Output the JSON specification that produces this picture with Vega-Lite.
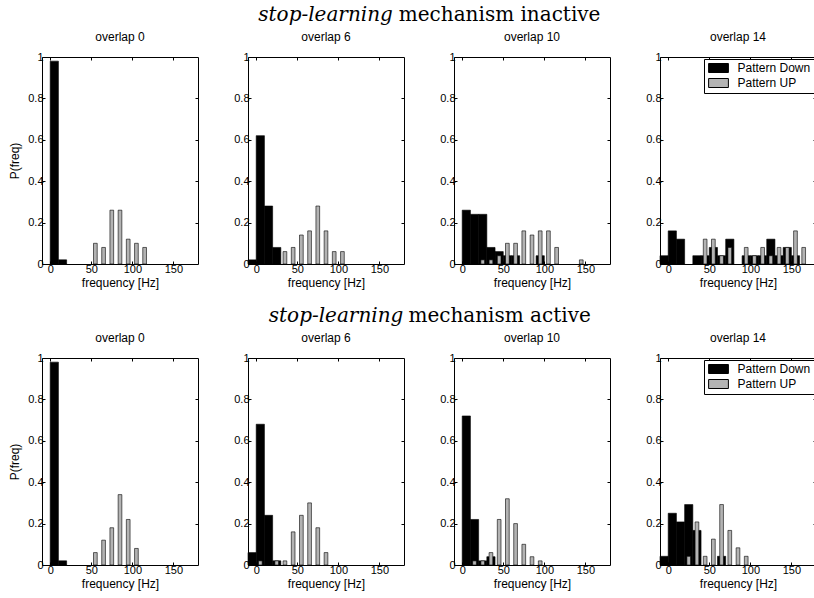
{
"$schema": "https://vega.github.io/schema/vega-lite/v6.json",
"background": "white",
"padding": {"left": 8, "top": 4, "right": 0, "bottom": 4},
"datasets": {"h": [
{"c":"inactive","o":0,"s":"Pattern Down","lo":0,"hi":10,"p":0.98},
{"c":"inactive","o":0,"s":"Pattern Down","lo":10,"hi":20,"p":0.02},
{"c":"inactive","o":0,"s":"Pattern UP","lo":50,"hi":60,"p":0.10},
{"c":"inactive","o":0,"s":"Pattern UP","lo":60,"hi":70,"p":0.08},
{"c":"inactive","o":0,"s":"Pattern UP","lo":70,"hi":80,"p":0.26},
{"c":"inactive","o":0,"s":"Pattern UP","lo":80,"hi":90,"p":0.26},
{"c":"inactive","o":0,"s":"Pattern UP","lo":90,"hi":100,"p":0.12},
{"c":"inactive","o":0,"s":"Pattern UP","lo":100,"hi":110,"p":0.10},
{"c":"inactive","o":0,"s":"Pattern UP","lo":110,"hi":120,"p":0.08},
{"c":"inactive","o":6,"s":"Pattern Down","lo":-10,"hi":0,"p":0.02},
{"c":"inactive","o":6,"s":"Pattern Down","lo":0,"hi":10,"p":0.62},
{"c":"inactive","o":6,"s":"Pattern Down","lo":10,"hi":20,"p":0.28},
{"c":"inactive","o":6,"s":"Pattern Down","lo":20,"hi":30,"p":0.08},
{"c":"inactive","o":6,"s":"Pattern UP","lo":30,"hi":40,"p":0.06},
{"c":"inactive","o":6,"s":"Pattern UP","lo":40,"hi":50,"p":0.08},
{"c":"inactive","o":6,"s":"Pattern UP","lo":50,"hi":60,"p":0.14},
{"c":"inactive","o":6,"s":"Pattern UP","lo":60,"hi":70,"p":0.16},
{"c":"inactive","o":6,"s":"Pattern UP","lo":70,"hi":80,"p":0.28},
{"c":"inactive","o":6,"s":"Pattern UP","lo":80,"hi":90,"p":0.16},
{"c":"inactive","o":6,"s":"Pattern UP","lo":90,"hi":100,"p":0.06},
{"c":"inactive","o":6,"s":"Pattern UP","lo":100,"hi":110,"p":0.06},
{"c":"inactive","o":10,"s":"Pattern Down","lo":0,"hi":10,"p":0.26},
{"c":"inactive","o":10,"s":"Pattern Down","lo":10,"hi":20,"p":0.24},
{"c":"inactive","o":10,"s":"Pattern Down","lo":20,"hi":30,"p":0.24},
{"c":"inactive","o":10,"s":"Pattern Down","lo":30,"hi":40,"p":0.08},
{"c":"inactive","o":10,"s":"Pattern Down","lo":40,"hi":50,"p":0.06},
{"c":"inactive","o":10,"s":"Pattern Down","lo":50,"hi":60,"p":0.04},
{"c":"inactive","o":10,"s":"Pattern Down","lo":60,"hi":70,"p":0.04},
{"c":"inactive","o":10,"s":"Pattern Down","lo":90,"hi":100,"p":0.04},
{"c":"inactive","o":10,"s":"Pattern UP","lo":20,"hi":30,"p":0.02},
{"c":"inactive","o":10,"s":"Pattern UP","lo":30,"hi":40,"p":0.02},
{"c":"inactive","o":10,"s":"Pattern UP","lo":40,"hi":50,"p":0.04},
{"c":"inactive","o":10,"s":"Pattern UP","lo":50,"hi":60,"p":0.10},
{"c":"inactive","o":10,"s":"Pattern UP","lo":60,"hi":70,"p":0.10},
{"c":"inactive","o":10,"s":"Pattern UP","lo":70,"hi":80,"p":0.16},
{"c":"inactive","o":10,"s":"Pattern UP","lo":80,"hi":90,"p":0.14},
{"c":"inactive","o":10,"s":"Pattern UP","lo":90,"hi":100,"p":0.16},
{"c":"inactive","o":10,"s":"Pattern UP","lo":100,"hi":110,"p":0.16},
{"c":"inactive","o":10,"s":"Pattern UP","lo":110,"hi":120,"p":0.08},
{"c":"inactive","o":10,"s":"Pattern UP","lo":140,"hi":150,"p":0.02},
{"c":"inactive","o":14,"s":"Pattern Down","lo":-10,"hi":0,"p":0.04},
{"c":"inactive","o":14,"s":"Pattern Down","lo":0,"hi":10,"p":0.16},
{"c":"inactive","o":14,"s":"Pattern Down","lo":10,"hi":20,"p":0.12},
{"c":"inactive","o":14,"s":"Pattern Down","lo":30,"hi":40,"p":0.04},
{"c":"inactive","o":14,"s":"Pattern Down","lo":40,"hi":50,"p":0.04},
{"c":"inactive","o":14,"s":"Pattern Down","lo":50,"hi":60,"p":0.08},
{"c":"inactive","o":14,"s":"Pattern Down","lo":60,"hi":70,"p":0.04},
{"c":"inactive","o":14,"s":"Pattern Down","lo":70,"hi":80,"p":0.12},
{"c":"inactive","o":14,"s":"Pattern Down","lo":90,"hi":100,"p":0.04},
{"c":"inactive","o":14,"s":"Pattern Down","lo":100,"hi":110,"p":0.04},
{"c":"inactive","o":14,"s":"Pattern Down","lo":110,"hi":120,"p":0.04},
{"c":"inactive","o":14,"s":"Pattern Down","lo":120,"hi":130,"p":0.12},
{"c":"inactive","o":14,"s":"Pattern Down","lo":130,"hi":140,"p":0.04},
{"c":"inactive","o":14,"s":"Pattern Down","lo":140,"hi":150,"p":0.08},
{"c":"inactive","o":14,"s":"Pattern Down","lo":150,"hi":160,"p":0.04},
{"c":"inactive","o":14,"s":"Pattern UP","lo":40,"hi":50,"p":0.12},
{"c":"inactive","o":14,"s":"Pattern UP","lo":50,"hi":60,"p":0.12},
{"c":"inactive","o":14,"s":"Pattern UP","lo":60,"hi":70,"p":0.04},
{"c":"inactive","o":14,"s":"Pattern UP","lo":70,"hi":80,"p":0.08},
{"c":"inactive","o":14,"s":"Pattern UP","lo":90,"hi":100,"p":0.08},
{"c":"inactive","o":14,"s":"Pattern UP","lo":100,"hi":110,"p":0.04},
{"c":"inactive","o":14,"s":"Pattern UP","lo":110,"hi":120,"p":0.08},
{"c":"inactive","o":14,"s":"Pattern UP","lo":120,"hi":130,"p":0.04},
{"c":"inactive","o":14,"s":"Pattern UP","lo":130,"hi":140,"p":0.08},
{"c":"inactive","o":14,"s":"Pattern UP","lo":140,"hi":150,"p":0.08},
{"c":"inactive","o":14,"s":"Pattern UP","lo":150,"hi":160,"p":0.16},
{"c":"inactive","o":14,"s":"Pattern UP","lo":160,"hi":170,"p":0.08},
{"c":"active","o":0,"s":"Pattern Down","lo":0,"hi":10,"p":0.98},
{"c":"active","o":0,"s":"Pattern Down","lo":10,"hi":20,"p":0.02},
{"c":"active","o":0,"s":"Pattern UP","lo":50,"hi":60,"p":0.06},
{"c":"active","o":0,"s":"Pattern UP","lo":60,"hi":70,"p":0.12},
{"c":"active","o":0,"s":"Pattern UP","lo":70,"hi":80,"p":0.18},
{"c":"active","o":0,"s":"Pattern UP","lo":80,"hi":90,"p":0.34},
{"c":"active","o":0,"s":"Pattern UP","lo":90,"hi":100,"p":0.22},
{"c":"active","o":0,"s":"Pattern UP","lo":100,"hi":110,"p":0.08},
{"c":"active","o":6,"s":"Pattern Down","lo":-10,"hi":0,"p":0.06},
{"c":"active","o":6,"s":"Pattern Down","lo":0,"hi":10,"p":0.68},
{"c":"active","o":6,"s":"Pattern Down","lo":10,"hi":20,"p":0.24},
{"c":"active","o":6,"s":"Pattern Down","lo":20,"hi":30,"p":0.02},
{"c":"active","o":6,"s":"Pattern UP","lo":0,"hi":10,"p":0.02},
{"c":"active","o":6,"s":"Pattern UP","lo":20,"hi":30,"p":0.02},
{"c":"active","o":6,"s":"Pattern UP","lo":30,"hi":40,"p":0.02},
{"c":"active","o":6,"s":"Pattern UP","lo":40,"hi":50,"p":0.16},
{"c":"active","o":6,"s":"Pattern UP","lo":50,"hi":60,"p":0.24},
{"c":"active","o":6,"s":"Pattern UP","lo":60,"hi":70,"p":0.30},
{"c":"active","o":6,"s":"Pattern UP","lo":70,"hi":80,"p":0.18},
{"c":"active","o":6,"s":"Pattern UP","lo":80,"hi":90,"p":0.06},
{"c":"active","o":10,"s":"Pattern Down","lo":0,"hi":10,"p":0.72},
{"c":"active","o":10,"s":"Pattern Down","lo":10,"hi":20,"p":0.22},
{"c":"active","o":10,"s":"Pattern Down","lo":20,"hi":30,"p":0.02},
{"c":"active","o":10,"s":"Pattern Down","lo":30,"hi":40,"p":0.04},
{"c":"active","o":10,"s":"Pattern UP","lo":10,"hi":20,"p":0.02},
{"c":"active","o":10,"s":"Pattern UP","lo":20,"hi":30,"p":0.02},
{"c":"active","o":10,"s":"Pattern UP","lo":30,"hi":40,"p":0.06},
{"c":"active","o":10,"s":"Pattern UP","lo":40,"hi":50,"p":0.22},
{"c":"active","o":10,"s":"Pattern UP","lo":50,"hi":60,"p":0.32},
{"c":"active","o":10,"s":"Pattern UP","lo":60,"hi":70,"p":0.20},
{"c":"active","o":10,"s":"Pattern UP","lo":70,"hi":80,"p":0.10},
{"c":"active","o":10,"s":"Pattern UP","lo":80,"hi":90,"p":0.04},
{"c":"active","o":10,"s":"Pattern UP","lo":90,"hi":100,"p":0.02},
{"c":"active","o":14,"s":"Pattern Down","lo":-10,"hi":0,"p":0.042},
{"c":"active","o":14,"s":"Pattern Down","lo":0,"hi":10,"p":0.25},
{"c":"active","o":14,"s":"Pattern Down","lo":10,"hi":20,"p":0.208},
{"c":"active","o":14,"s":"Pattern Down","lo":20,"hi":30,"p":0.292},
{"c":"active","o":14,"s":"Pattern Down","lo":30,"hi":40,"p":0.167},
{"c":"active","o":14,"s":"Pattern Down","lo":60,"hi":70,"p":0.042},
{"c":"active","o":14,"s":"Pattern UP","lo":20,"hi":30,"p":0.042},
{"c":"active","o":14,"s":"Pattern UP","lo":30,"hi":40,"p":0.208},
{"c":"active","o":14,"s":"Pattern UP","lo":40,"hi":50,"p":0.042},
{"c":"active","o":14,"s":"Pattern UP","lo":50,"hi":60,"p":0.125},
{"c":"active","o":14,"s":"Pattern UP","lo":60,"hi":70,"p":0.292},
{"c":"active","o":14,"s":"Pattern UP","lo":70,"hi":80,"p":0.167},
{"c":"active","o":14,"s":"Pattern UP","lo":80,"hi":90,"p":0.083},
{"c":"active","o":14,"s":"Pattern UP","lo":90,"hi":100,"p":0.042}
]},
"data": {"name": "h"},
"config": {
  "font": "Liberation Sans",
  "view": {"stroke": "black", "strokeWidth": 1},
  "axis": {"grid": false, "domain": false, "tickColor": "black", "tickSize": -3, "labelPadding": 2, "labelFontSize": 11, "labelColor": "black", "labelFont": "Liberation Sans", "titleFontSize": 12, "titleFontWeight": "normal", "titleColor": "black", "titleFont": "Liberation Sans"},
  "axisX": {"titlePadding": 3},
  "axisY": {"titlePadding": 6},
  "title": {"font": "Liberation Sans", "fontSize": 12, "fontWeight": "normal", "color": "black", "offset": 7}
},
"spacing": 16,
"resolve": {"scale": {"color": "independent"}, "legend": {"color": "independent"}},
"vconcat": [
{
  "title": {"text": "stop-learning", "font": "DejaVu Serif", "fontStyle": "italic", "fontSize": 20, "fontWeight": "normal", "anchor": "middle", "dx": -87, "dy": 20, "offset": 0},
  "resolve": {"scale": {"color": "independent"}, "legend": {"color": "independent"}},
  "vconcat": [{
    "title": {"text": "mechanism inactive", "font": "DejaVu Serif", "fontSize": 20, "fontWeight": "normal", "anchor": "middle", "dx": 87, "offset": 6},
    "spacing": 50,
    "bounds": "flush",
    "resolve": {"scale": {"color": "independent"}, "legend": {"color": "independent"}},
    "hconcat": [
      {"width": 156, "height": 207, "title": "overlap 0",
       "transform": [{"filter": "datum.c === 'inactive' && datum.o === 0"}],
       "layer": [
        {"transform": [{"filter": "datum.s === 'Pattern Down'"}],
         "mark": {"type": "rect", "stroke": "black", "strokeWidth": 0.6},
         "encoding": {
          "x": {"field": "lo", "type": "quantitative", "scale": {"domain": [-10, 180], "nice": false, "zero": false}, "axis": {"orient": "bottom", "values": [0, 50, 100, 150], "title": "frequency [Hz]"}},
          "x2": {"field": "hi"},
          "y": {"field": "p", "type": "quantitative", "scale": {"domain": [0, 1], "nice": false}, "axis": {"orient": "left", "values": [0, 0.2, 0.4, 0.6, 0.8, 1], "format": "~g", "title": "P(freq)"}},
          "y2": {"datum": 0},
          "color": {"field": "s", "type": "nominal", "scale": {"domain": ["Pattern Down", "Pattern UP"], "range": ["#000000", "#b3b3b3"]}, "legend": null}}},
        {"transform": [{"filter": "datum.s === 'Pattern UP'"}],
         "mark": {"type": "rect", "stroke": "black", "strokeWidth": 0.6, "xOffset": 2.25, "x2Offset": -2.25},
         "encoding": {
          "x": {"field": "lo", "type": "quantitative", "axis": {"orient": "top", "values": [0, 50, 100, 150], "labels": false, "title": null}},
          "x2": {"field": "hi"},
          "y": {"field": "p", "type": "quantitative", "axis": {"orient": "right", "values": [0.2, 0.4, 0.6, 0.8], "labels": false, "title": null}},
          "y2": {"datum": 0},
          "color": {"field": "s", "type": "nominal", "legend": null}}}
       ],
       "resolve": {"axis": {"x": "independent", "y": "independent"}}},
      {"width": 156, "height": 207, "title": "overlap 6",
       "transform": [{"filter": "datum.c === 'inactive' && datum.o === 6"}],
       "layer": [
        {"transform": [{"filter": "datum.s === 'Pattern Down'"}],
         "mark": {"type": "rect", "stroke": "black", "strokeWidth": 0.6},
         "encoding": {
          "x": {"field": "lo", "type": "quantitative", "scale": {"domain": [-10, 180], "nice": false, "zero": false}, "axis": {"orient": "bottom", "values": [0, 50, 100, 150], "title": "frequency [Hz]"}},
          "x2": {"field": "hi"},
          "y": {"field": "p", "type": "quantitative", "scale": {"domain": [0, 1], "nice": false}, "axis": {"orient": "left", "values": [0, 0.2, 0.4, 0.6, 0.8, 1], "format": "~g", "title": null}},
          "y2": {"datum": 0},
          "color": {"field": "s", "type": "nominal", "scale": {"domain": ["Pattern Down", "Pattern UP"], "range": ["#000000", "#b3b3b3"]}, "legend": null}}},
        {"transform": [{"filter": "datum.s === 'Pattern UP'"}],
         "mark": {"type": "rect", "stroke": "black", "strokeWidth": 0.6, "xOffset": 2.25, "x2Offset": -2.25},
         "encoding": {
          "x": {"field": "lo", "type": "quantitative", "axis": {"orient": "top", "values": [0, 50, 100, 150], "labels": false, "title": null}},
          "x2": {"field": "hi"},
          "y": {"field": "p", "type": "quantitative", "axis": {"orient": "right", "values": [0.2, 0.4, 0.6, 0.8], "labels": false, "title": null}},
          "y2": {"datum": 0},
          "color": {"field": "s", "type": "nominal", "legend": null}}}
       ],
       "resolve": {"axis": {"x": "independent", "y": "independent"}}},
      {"width": 156, "height": 207, "title": "overlap 10",
       "transform": [{"filter": "datum.c === 'inactive' && datum.o === 10"}],
       "layer": [
        {"transform": [{"filter": "datum.s === 'Pattern Down'"}],
         "mark": {"type": "rect", "stroke": "black", "strokeWidth": 0.6},
         "encoding": {
          "x": {"field": "lo", "type": "quantitative", "scale": {"domain": [-10, 180], "nice": false, "zero": false}, "axis": {"orient": "bottom", "values": [0, 50, 100, 150], "title": "frequency [Hz]"}},
          "x2": {"field": "hi"},
          "y": {"field": "p", "type": "quantitative", "scale": {"domain": [0, 1], "nice": false}, "axis": {"orient": "left", "values": [0, 0.2, 0.4, 0.6, 0.8, 1], "format": "~g", "title": null}},
          "y2": {"datum": 0},
          "color": {"field": "s", "type": "nominal", "scale": {"domain": ["Pattern Down", "Pattern UP"], "range": ["#000000", "#b3b3b3"]}, "legend": null}}},
        {"transform": [{"filter": "datum.s === 'Pattern UP'"}],
         "mark": {"type": "rect", "stroke": "black", "strokeWidth": 0.6, "xOffset": 2.25, "x2Offset": -2.25},
         "encoding": {
          "x": {"field": "lo", "type": "quantitative", "axis": {"orient": "top", "values": [0, 50, 100, 150], "labels": false, "title": null}},
          "x2": {"field": "hi"},
          "y": {"field": "p", "type": "quantitative", "axis": {"orient": "right", "values": [0.2, 0.4, 0.6, 0.8], "labels": false, "title": null}},
          "y2": {"datum": 0},
          "color": {"field": "s", "type": "nominal", "legend": null}}}
       ],
       "resolve": {"axis": {"x": "independent", "y": "independent"}}},
      {"width": 156, "height": 207, "title": "overlap 14",
       "transform": [{"filter": "datum.c === 'inactive' && datum.o === 14"}],
       "layer": [
        {"transform": [{"filter": "datum.s === 'Pattern Down'"}],
         "mark": {"type": "rect", "stroke": "black", "strokeWidth": 0.6},
         "encoding": {
          "x": {"field": "lo", "type": "quantitative", "scale": {"domain": [-10, 180], "nice": false, "zero": false}, "axis": {"orient": "bottom", "values": [0, 50, 100, 150], "title": "frequency [Hz]"}},
          "x2": {"field": "hi"},
          "y": {"field": "p", "type": "quantitative", "scale": {"domain": [0, 1], "nice": false}, "axis": {"orient": "left", "values": [0, 0.2, 0.4, 0.6, 0.8, 1], "format": "~g", "title": null}},
          "y2": {"datum": 0},
          "color": {"field": "s", "type": "nominal", "scale": {"domain": ["Pattern Down", "Pattern UP"], "range": ["#000000", "#b3b3b3"]},
            "legend": {"orient": "top-right", "offset": 2, "title": null, "padding": 3, "strokeColor": "black", "fillColor": "white", "labelFontSize": 12, "labelColor": "black", "labelFont": "Liberation Sans", "symbolType": "M-2.2,-1H2.2V1H-2.2Z", "symbolSize": 81, "symbolOffset": 5.5, "symbolStrokeColor": "black", "symbolStrokeWidth": 1, "labelOffset": 13, "rowPadding": 1}}}},
        {"transform": [{"filter": "datum.s === 'Pattern UP'"}],
         "mark": {"type": "rect", "stroke": "black", "strokeWidth": 0.6, "xOffset": 2.25, "x2Offset": -2.25},
         "encoding": {
          "x": {"field": "lo", "type": "quantitative", "axis": {"orient": "top", "values": [0, 50, 100, 150], "labels": false, "title": null}},
          "x2": {"field": "hi"},
          "y": {"field": "p", "type": "quantitative", "axis": {"orient": "right", "values": [0.2, 0.4, 0.6, 0.8], "labels": false, "title": null}},
          "y2": {"datum": 0},
          "color": {"field": "s", "type": "nominal",
            "legend": {"orient": "top-right", "offset": 2, "title": null, "padding": 3, "strokeColor": "black", "fillColor": "white", "labelFontSize": 12, "labelColor": "black", "labelFont": "Liberation Sans", "symbolType": "M-2.2,-1H2.2V1H-2.2Z", "symbolSize": 81, "symbolOffset": 5.5, "symbolStrokeColor": "black", "symbolStrokeWidth": 1, "labelOffset": 13, "rowPadding": 1}}}}
       ],
       "resolve": {"axis": {"x": "independent", "y": "independent"}}}
    ]
  }]
},
{
  "title": {"text": "stop-learning", "font": "DejaVu Serif", "fontStyle": "italic", "fontSize": 20, "fontWeight": "normal", "anchor": "middle", "dx": -76.5, "dy": 20, "offset": 0},
  "resolve": {"scale": {"color": "independent"}, "legend": {"color": "independent"}},
  "vconcat": [{
    "title": {"text": "mechanism active", "font": "DejaVu Serif", "fontSize": 20, "fontWeight": "normal", "anchor": "middle", "dx": 87, "offset": 6},
    "spacing": 50,
    "bounds": "flush",
    "resolve": {"scale": {"color": "independent"}, "legend": {"color": "independent"}},
    "hconcat": [
      {"width": 156, "height": 207, "title": "overlap 0",
       "transform": [{"filter": "datum.c === 'active' && datum.o === 0"}],
       "layer": [
        {"transform": [{"filter": "datum.s === 'Pattern Down'"}],
         "mark": {"type": "rect", "stroke": "black", "strokeWidth": 0.6},
         "encoding": {
          "x": {"field": "lo", "type": "quantitative", "scale": {"domain": [-10, 180], "nice": false, "zero": false}, "axis": {"orient": "bottom", "values": [0, 50, 100, 150], "title": "frequency [Hz]"}},
          "x2": {"field": "hi"},
          "y": {"field": "p", "type": "quantitative", "scale": {"domain": [0, 1], "nice": false}, "axis": {"orient": "left", "values": [0, 0.2, 0.4, 0.6, 0.8, 1], "format": "~g", "title": "P(freq)"}},
          "y2": {"datum": 0},
          "color": {"field": "s", "type": "nominal", "scale": {"domain": ["Pattern Down", "Pattern UP"], "range": ["#000000", "#b3b3b3"]}, "legend": null}}},
        {"transform": [{"filter": "datum.s === 'Pattern UP'"}],
         "mark": {"type": "rect", "stroke": "black", "strokeWidth": 0.6, "xOffset": 2.25, "x2Offset": -2.25},
         "encoding": {
          "x": {"field": "lo", "type": "quantitative", "axis": {"orient": "top", "values": [0, 50, 100, 150], "labels": false, "title": null}},
          "x2": {"field": "hi"},
          "y": {"field": "p", "type": "quantitative", "axis": {"orient": "right", "values": [0.2, 0.4, 0.6, 0.8], "labels": false, "title": null}},
          "y2": {"datum": 0},
          "color": {"field": "s", "type": "nominal", "legend": null}}}
       ],
       "resolve": {"axis": {"x": "independent", "y": "independent"}}},
      {"width": 156, "height": 207, "title": "overlap 6",
       "transform": [{"filter": "datum.c === 'active' && datum.o === 6"}],
       "layer": [
        {"transform": [{"filter": "datum.s === 'Pattern Down'"}],
         "mark": {"type": "rect", "stroke": "black", "strokeWidth": 0.6},
         "encoding": {
          "x": {"field": "lo", "type": "quantitative", "scale": {"domain": [-10, 180], "nice": false, "zero": false}, "axis": {"orient": "bottom", "values": [0, 50, 100, 150], "title": "frequency [Hz]"}},
          "x2": {"field": "hi"},
          "y": {"field": "p", "type": "quantitative", "scale": {"domain": [0, 1], "nice": false}, "axis": {"orient": "left", "values": [0, 0.2, 0.4, 0.6, 0.8, 1], "format": "~g", "title": null}},
          "y2": {"datum": 0},
          "color": {"field": "s", "type": "nominal", "scale": {"domain": ["Pattern Down", "Pattern UP"], "range": ["#000000", "#b3b3b3"]}, "legend": null}}},
        {"transform": [{"filter": "datum.s === 'Pattern UP'"}],
         "mark": {"type": "rect", "stroke": "black", "strokeWidth": 0.6, "xOffset": 2.25, "x2Offset": -2.25},
         "encoding": {
          "x": {"field": "lo", "type": "quantitative", "axis": {"orient": "top", "values": [0, 50, 100, 150], "labels": false, "title": null}},
          "x2": {"field": "hi"},
          "y": {"field": "p", "type": "quantitative", "axis": {"orient": "right", "values": [0.2, 0.4, 0.6, 0.8], "labels": false, "title": null}},
          "y2": {"datum": 0},
          "color": {"field": "s", "type": "nominal", "legend": null}}}
       ],
       "resolve": {"axis": {"x": "independent", "y": "independent"}}},
      {"width": 156, "height": 207, "title": "overlap 10",
       "transform": [{"filter": "datum.c === 'active' && datum.o === 10"}],
       "layer": [
        {"transform": [{"filter": "datum.s === 'Pattern Down'"}],
         "mark": {"type": "rect", "stroke": "black", "strokeWidth": 0.6},
         "encoding": {
          "x": {"field": "lo", "type": "quantitative", "scale": {"domain": [-10, 180], "nice": false, "zero": false}, "axis": {"orient": "bottom", "values": [0, 50, 100, 150], "title": "frequency [Hz]"}},
          "x2": {"field": "hi"},
          "y": {"field": "p", "type": "quantitative", "scale": {"domain": [0, 1], "nice": false}, "axis": {"orient": "left", "values": [0, 0.2, 0.4, 0.6, 0.8, 1], "format": "~g", "title": null}},
          "y2": {"datum": 0},
          "color": {"field": "s", "type": "nominal", "scale": {"domain": ["Pattern Down", "Pattern UP"], "range": ["#000000", "#b3b3b3"]}, "legend": null}}},
        {"transform": [{"filter": "datum.s === 'Pattern UP'"}],
         "mark": {"type": "rect", "stroke": "black", "strokeWidth": 0.6, "xOffset": 2.25, "x2Offset": -2.25},
         "encoding": {
          "x": {"field": "lo", "type": "quantitative", "axis": {"orient": "top", "values": [0, 50, 100, 150], "labels": false, "title": null}},
          "x2": {"field": "hi"},
          "y": {"field": "p", "type": "quantitative", "axis": {"orient": "right", "values": [0.2, 0.4, 0.6, 0.8], "labels": false, "title": null}},
          "y2": {"datum": 0},
          "color": {"field": "s", "type": "nominal", "legend": null}}}
       ],
       "resolve": {"axis": {"x": "independent", "y": "independent"}}},
      {"width": 156, "height": 207, "title": "overlap 14",
       "transform": [{"filter": "datum.c === 'active' && datum.o === 14"}],
       "layer": [
        {"transform": [{"filter": "datum.s === 'Pattern Down'"}],
         "mark": {"type": "rect", "stroke": "black", "strokeWidth": 0.6},
         "encoding": {
          "x": {"field": "lo", "type": "quantitative", "scale": {"domain": [-10, 180], "nice": false, "zero": false}, "axis": {"orient": "bottom", "values": [0, 50, 100, 150], "title": "frequency [Hz]"}},
          "x2": {"field": "hi"},
          "y": {"field": "p", "type": "quantitative", "scale": {"domain": [0, 1], "nice": false}, "axis": {"orient": "left", "values": [0, 0.2, 0.4, 0.6, 0.8, 1], "format": "~g", "title": null}},
          "y2": {"datum": 0},
          "color": {"field": "s", "type": "nominal", "scale": {"domain": ["Pattern Down", "Pattern UP"], "range": ["#000000", "#b3b3b3"]},
            "legend": {"orient": "top-right", "offset": 2, "title": null, "padding": 3, "strokeColor": "black", "fillColor": "white", "labelFontSize": 12, "labelColor": "black", "labelFont": "Liberation Sans", "symbolType": "M-2.2,-1H2.2V1H-2.2Z", "symbolSize": 81, "symbolOffset": 5.5, "symbolStrokeColor": "black", "symbolStrokeWidth": 1, "labelOffset": 13, "rowPadding": 1}}}},
        {"transform": [{"filter": "datum.s === 'Pattern UP'"}],
         "mark": {"type": "rect", "stroke": "black", "strokeWidth": 0.6, "xOffset": 2.25, "x2Offset": -2.25},
         "encoding": {
          "x": {"field": "lo", "type": "quantitative", "axis": {"orient": "top", "values": [0, 50, 100, 150], "labels": false, "title": null}},
          "x2": {"field": "hi"},
          "y": {"field": "p", "type": "quantitative", "axis": {"orient": "right", "values": [0.2, 0.4, 0.6, 0.8], "labels": false, "title": null}},
          "y2": {"datum": 0},
          "color": {"field": "s", "type": "nominal",
            "legend": {"orient": "top-right", "offset": 2, "title": null, "padding": 3, "strokeColor": "black", "fillColor": "white", "labelFontSize": 12, "labelColor": "black", "labelFont": "Liberation Sans", "symbolType": "M-2.2,-1H2.2V1H-2.2Z", "symbolSize": 81, "symbolOffset": 5.5, "symbolStrokeColor": "black", "symbolStrokeWidth": 1, "labelOffset": 13, "rowPadding": 1}}}}
       ],
       "resolve": {"axis": {"x": "independent", "y": "independent"}}}
    ]
  }]
}
]
}
